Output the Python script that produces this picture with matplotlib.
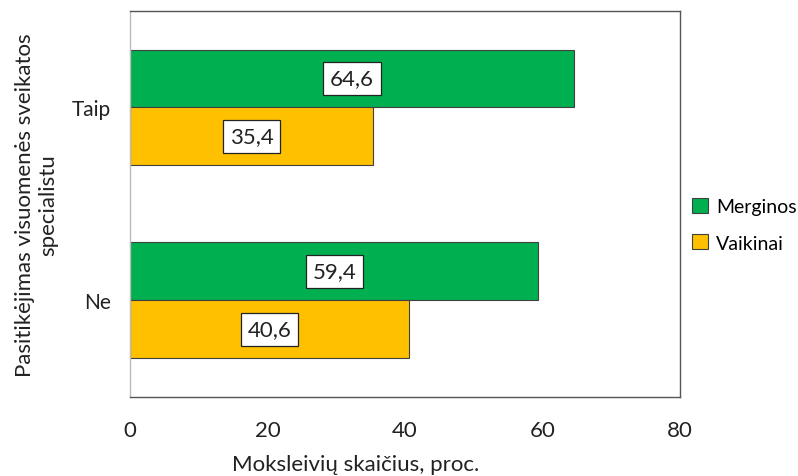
"""Horizontal bar chart: trust in public health specialist by gender."""

import matplotlib.pyplot as plt
import numpy as np

categories = ["Ne", "Taip"]
merginos = [59.4, 64.6]
vaikinai = [40.6, 35.4]
series_names = ["Merginos", "Vaikinai"]
x_ticks = [0, 20, 40, 60, 80]

GREEN = "#00B050"
YELLOW = "#FFC000"
EDGE = "#404040"

plt.rcParams["font.family"] = ["Lato", "DejaVu Sans"]
plt.rcParams["font.size"] = 16

fig = plt.figure(figsize=(7.98, 4.77), dpi=100)
ax = fig.add_axes([0.163, 0.166, 0.689, 0.809])

y = np.arange(len(categories))
h = 0.3
bars_g = ax.barh(y + h / 2, merginos, height=h, color=GREEN, edgecolor=EDGE,
                 linewidth=0.8, label=series_names[0])
bars_y = ax.barh(y - h / 2, vaikinai, height=h, color=YELLOW, edgecolor=EDGE,
                 linewidth=0.8, label=series_names[1])

for bars in (bars_g, bars_y):
    for b in bars:
        val = b.get_width()
        ax.text(val / 2, b.get_y() + b.get_height() / 2, f"{val:.1f}".replace(".", ","),
                ha="center", va="center", fontsize=16, color="#222222",
                bbox=dict(boxstyle="square,pad=0.3", facecolor="white",
                          edgecolor="#222222", linewidth=0.9))

ax.set_xlim(0, 80)
ax.set_ylim(-0.5, 1.5)
ax.set_xticks(x_ticks)
ax.set_yticks(y)
ax.set_yticklabels(categories)
ax.tick_params(length=0, labelsize=15, colors="#222222")
ax.tick_params(axis="x", pad=17, labelsize=16)
ax.tick_params(axis="y", pad=14)

for side in ("top", "right", "bottom"):
    ax.spines[side].set_color("#555555")
    ax.spines[side].set_linewidth(1.0)
ax.spines["left"].set_color("#bbbbbb")
ax.spines["left"].set_linewidth(1.0)

ax.set_xlabel("Moksleivių skaičius, proc.", fontsize=16, color="#222222")
ax.xaxis.set_label_coords(0.41, -0.148)
ax.set_ylabel("Pasitikėjimas visuomenės sveikatos\nspecialistu", fontsize=16,
              color="#222222", linespacing=1.2)
ax.yaxis.set_label_coords(-0.13, 0.5)

handles, labels = ax.get_legend_handles_labels()
fig.legend(handles, labels, loc="center left", bbox_to_anchor=(0.858, 0.527),
           frameon=False, fontsize=14, handlelength=0.8, handleheight=0.8,
           handletextpad=0.4, labelspacing=1.0, borderaxespad=0)

fig.savefig("out.png", dpi=100)
